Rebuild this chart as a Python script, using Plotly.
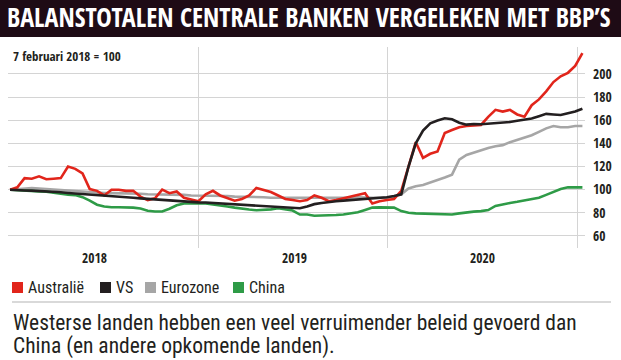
import pandas as pd
import plotly.graph_objects as go

start_date = "2018-02-07"
n_obs = 80
dates = pd.date_range(start_date, periods=n_obs, freq="14D")

australie = [100, 102, 110, 109.5, 111.5, 109, 109.5, 110, 120, 118,
             114, 100.5, 99, 95, 100, 100, 99, 99, 94, 91,
             92.5, 100, 97, 98.5, 93, 91.5, 90, 96, 99, 95,
             93, 90.5, 92, 95, 101.5, 99.5, 98, 95, 92, 91,
             90, 91, 95, 93, 90, 91, 92.5, 94, 95.5, 97,
             88, 90, 91, 92, 99, 120, 141, 127.5, 131, 133,
             149, 151.5, 154, 155, 155.5, 156, 163, 169, 167.5, 169,
             165, 163, 173, 178, 185, 193, 198, 201, 207, 218]

vs = [100, 99.5, 99.3, 99.2, 99.0, 98.8, 98.3, 97.8, 97.2, 96.8,
      96.3, 95.8, 95.4, 95.0, 94.5, 94.0, 93.5, 93.0, 92.5, 92.0,
      91.6, 91.1, 90.7, 90.2, 89.8, 89.3, 89.0, 88.9, 88.5, 88.0,
      87.6, 87.2, 86.7, 86.3, 85.9, 85.5, 85.1, 84.7, 84.4, 84.0,
      83.9, 85.5, 87.5, 88.5, 89.5, 90, 90.5, 91, 91.5, 92,
      92.5, 92.5, 93.5, 94.5, 96, 120, 140, 151, 157.3, 159.7,
      161.7, 160.8, 157.9, 156.2, 156.8, 156.5, 157, 157.3, 158, 158.5,
      159.5, 160.5, 161.5, 163.5, 165.5, 165, 164.5, 166, 167.5, 170]

eurozone = [100, 100.5, 101, 101.5, 101, 100.5, 100, 99.5, 99, 98.5,
            98, 97.5, 97.5, 97, 97, 97, 96.5, 96.5, 96.5, 96,
            96, 96, 96, 95.5, 95.5, 95, 95, 95, 94.5, 94.5,
            94.5, 94, 94, 93.5, 93.5, 93.5, 93, 93, 92.5, 92.5,
            92.5, 92.5, 92.5, 92.5, 93, 93, 93, 93, 93.5, 93,
            93, 93, 93, 94, 96, 101, 103, 104, 106, 108,
            110.5, 113, 126, 130, 132, 134.5, 136, 137.5, 138.5, 141,
            143, 145, 147, 150, 153, 155, 154, 154, 155, 155]

china = [100, 99.5, 99, 98.5, 98.5, 98.3, 97.3, 96.3, 95.6, 95.3,
         93.5, 90.5, 87, 85.5, 84.8, 84.8, 84.8, 84.5, 83.8, 81.8,
         81.2, 81.2, 83.5, 86.5, 88, 88.2, 88.2, 88, 87.2, 86.6,
         85.5, 84.5, 83.5, 82.8, 82.2, 82.4, 83, 83.9, 83, 82,
         78.5, 78.5, 77.5, 77.5, 77.8, 78.1, 78.5, 79.3, 80.5, 82.5,
         84.5, 84.7, 84.7, 84.5, 81.5, 80, 79.5, 79.3, 79, 78.5,
         78.1, 78.5, 79.5, 80.5, 81, 81.5, 82.4, 86, 87.5, 88.5,
         89.5, 90.5, 91.5, 93, 95.5, 98, 100.5, 102, 102.3, 102]

series_names = ["Australië", "VS", "Eurozone", "China"]
series_colors = ["#e1251b", "#231f20", "#a6a6a6", "#2e9b47"]
series_values = [australie, vs, eurozone, china]

y_ticks = [60, 80, 100, 120, 140, 160, 180, 200]
year_dividers = ["2019-02-07", "2020-02-07", "2021-02-07"]
year_labels = ["2018", "2019", "2020"]
year_label_dates = ["2018-07-21", "2019-08-11", "2020-08-08"]

title_text = "BALANSTOTALEN CENTRALE BANKEN VERGELEKEN MET BBP\u2019S"
subtitle_text = "7 februari 2018 = 100"
caption_lines = ["Westerse landen hebben een veel verruimender beleid gevoerd dan",
                 "China (en andere opkomende landen)."]

# ---------------- figure ----------------
W, H = 621, 360
ML, MR, MT, MB = 8, 36, 47, 112
PW, PH = W - ML - MR, H - MT - MB

def px_x(px):  # pixel -> paper x
    return (px - ML) / PW

def px_y(py):  # pixel -> paper y
    return (H - MB - py) / PH

BOLD = "Open Sans Condensed, Roboto Condensed, DejaVu Sans Condensed, sans-serif"
REG = "Roboto Condensed, DejaVu Sans Condensed, sans-serif"
DARK = "#231f20"

fig = go.Figure()
draw_order = [2, 3, 0, 1]
for k in draw_order:
    fig.add_trace(go.Scatter(
        x=dates, y=series_values[k], mode="lines", name=series_names[k],
        line=dict(color=series_colors[k], width=2.6), showlegend=False,
        hoverinfo="skip"))

shapes = []
annotations = []

# title band
shapes.append(dict(type="rect", xref="paper", yref="paper",
                   x0=px_x(-2), x1=px_x(W + 2), y0=px_y(37), y1=px_y(-2),
                   fillcolor="#1e0b15", line=dict(width=0), layer="below"))
annotations.append(dict(text="<b>" + title_text + "</b>", xref="paper", yref="paper",
                        x=px_x(5), y=px_y(17), xanchor="left", yanchor="middle",
                        showarrow=False, font=dict(family=BOLD, size=26, color="white")))
annotations.append(dict(text="<b>" + subtitle_text + "</b>", xref="paper", yref="paper",
                        x=px_x(11), y=px_y(56), xanchor="left", yanchor="middle",
                        showarrow=False, font=dict(family=BOLD, size=13, color=DARK)))

# year labels
for lab, d in zip(year_labels, year_label_dates):
    annotations.append(dict(text="<b>" + lab + "</b>", xref="x", yref="paper",
                            x=d, y=px_y(258), xanchor="center", yanchor="middle",
                            showarrow=False, font=dict(family=BOLD, size=13.5, color=DARK)))

# legend (squares + labels)
legend_x = [12, 100, 145, 233]
for name, col, lx in zip(series_names, series_colors, legend_x):
    shapes.append(dict(type="rect", xref="paper", yref="paper",
                       x0=px_x(lx), x1=px_x(lx + 11), y0=px_y(293), y1=px_y(282),
                       fillcolor=col, line=dict(width=0)))
    annotations.append(dict(text=name, xref="paper", yref="paper",
                            x=px_x(lx + 14), y=px_y(287.5), xanchor="left", yanchor="middle",
                            showarrow=False, font=dict(family=REG, size=16, color=DARK)))

# separator above caption
shapes.append(dict(type="line", xref="paper", yref="paper",
                   x0=px_x(12), x1=px_x(611), y0=px_y(302), y1=px_y(302),
                   line=dict(color="#b3b3b3", width=1)))
for line_text, ly in zip(caption_lines, [322, 346]):
    annotations.append(dict(text=line_text, xref="paper", yref="paper",
                            x=px_x(11), y=px_y(ly), xanchor="left", yanchor="middle", align="left",
                            showarrow=False, font=dict(family=REG, size=21.5, color=DARK)))

fig.update_layout(
    width=W, height=H,
    margin=dict(l=ML, r=MR, t=MT, b=MB, pad=0),
    paper_bgcolor="white", plot_bgcolor="white",
    showlegend=False,
    shapes=shapes, annotations=annotations,
    xaxis=dict(type="date", range=["2018-02-03", "2021-02-22"],
               tickvals=year_dividers, showticklabels=False, ticks="",
               showgrid=True, gridcolor="#d4d4d4", gridwidth=1,
               zeroline=False, showline=False, fixedrange=True),
    yaxis=dict(side="right", range=[49.6, 223.3], tickvals=y_ticks,
               ticktext=["<b>%d</b>" % v for v in y_ticks],
               ticks="", ticklabelstandoff=7, automargin=False,
               tickfont=dict(family=BOLD, size=13.5, color=DARK),
               showgrid=True, gridcolor="#d4d4d4", gridwidth=1,
               zeroline=False, showline=False, fixedrange=True),
)

fig.write_html("out.html", config={"displayModeBar": False},
               post_script="document.body.style.margin='0';")
